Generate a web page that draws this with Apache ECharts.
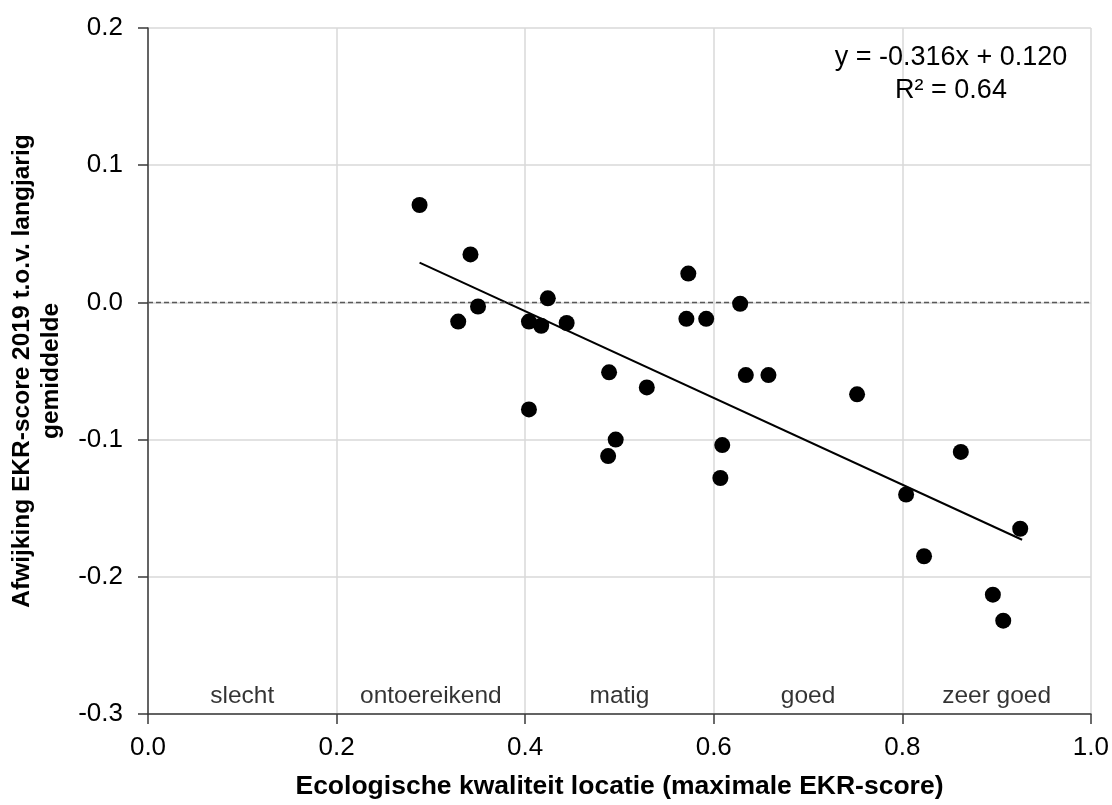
<!DOCTYPE html>
<html>
<head>
<meta charset="utf-8">
<script src="https://cdn.jsdelivr.net/npm/echarts@6/dist/echarts.min.js"></script>
<style>
html,body{margin:0;padding:0;background:#fff;}
#chart{width:1112px;height:805px;}
</style>
</head>
<body>
<div id="chart"></div>
<script>
// Data
const xValues = [0.288, 0.342, 0.329, 0.350, 0.404, 0.417, 0.424, 0.444, 0.404, 0.489,
                 0.496, 0.488, 0.529, 0.573, 0.571, 0.592, 0.628, 0.634, 0.658, 0.609,
                 0.607, 0.752, 0.862, 0.804, 0.823, 0.925, 0.896, 0.907];
const yValues = [0.071, 0.035, -0.014, -0.003, -0.014, -0.017, 0.003, -0.015, -0.078, -0.051,
                 -0.100, -0.112, -0.062, 0.021, -0.012, -0.012, -0.001, -0.053, -0.053, -0.104,
                 -0.128, -0.067, -0.109, -0.140, -0.185, -0.165, -0.213, -0.232];
// Trendline end points (y = -0.316x + 0.120)
const trendX = [0.288, 0.927];
const trendY = [0.029, -0.173];
// Quality class labels
const zoneNames = ['slecht', 'ontoereikend', 'matig', 'goed', 'zeer goed'];
const zoneCenters = [0.1, 0.3, 0.5, 0.7, 0.9];
const zoneLabelY = -0.287;
const xTicks = [0.0, 0.2, 0.4, 0.6, 0.8, 1.0];
const yTicks = [-0.3, -0.2, -0.1, 0.0, 0.1, 0.2];
const equationText = 'y = -0.316x + 0.120\nR² = 0.64';

const chart = echarts.init(document.getElementById('chart'), null, {renderer: 'canvas'});
const font = 'Liberation Sans';
const option = {
  animation: false,
  backgroundColor: '#ffffff',
  grid: {left: 148, right: 20, top: 28, bottom: 88, containLabel: false},
  xAxis: {
    type: 'value', min: xTicks[0], max: xTicks[xTicks.length - 1], interval: 0.2,
    name: 'Ecologische kwaliteit locatie (maximale EKR-score)',
    nameLocation: 'middle', nameGap: 59,
    nameTextStyle: {fontFamily: font, fontWeight: 'bold', fontSize: 26.5, color: '#000'},
    axisLine: {show: true, onZero: false, lineStyle: {color: '#3a3a3a', width: 1.5}},
    axisTick: {show: true, inside: false, length: 10, lineStyle: {color: '#3a3a3a', width: 1.5}},
    axisLabel: {fontFamily: font, fontSize: 26, color: '#000', margin: 21,
      formatter: v => v.toFixed(1)},
    splitLine: {show: true, lineStyle: {color: '#d9d9d9', width: 1.5}}
  },
  yAxis: {
    type: 'value', min: yTicks[0], max: yTicks[yTicks.length - 1], interval: 0.1,
    name: 'Afwijking EKR-score 2019 t.o.v. langjarig\ngemiddelde',
    nameLocation: 'middle', nameGap: 82, nameRotate: 90,
    nameTextStyle: {fontFamily: font, fontWeight: 'bold', fontSize: 24.5,
      color: '#000', lineHeight: 29, align: 'center'},
    axisLine: {show: true, onZero: false, lineStyle: {color: '#3a3a3a', width: 1.5}},
    axisTick: {show: true, inside: false, length: 10, lineStyle: {color: '#3a3a3a', width: 1.5}},
    axisLabel: {fontFamily: font, fontSize: 26, color: '#000', margin: 25,
      formatter: v => (Math.abs(v) < 1e-9 ? 0 : v).toFixed(1)},
    splitLine: {show: true, lineStyle: {color: '#d9d9d9', width: 1.5}}
  },
  graphic: [{
    type: 'text', left: 951 - 130, top: 41, z: 100,
    style: {text: equationText, font: '27px "Liberation Sans"', fill: '#000',
      textAlign: 'center', lineHeight: 33, width: 260, x: 130}
  }],
  series: [
    {
      type: 'scatter', name: 'punten',
      data: xValues.map((x, i) => [x, yValues[i]]),
      symbol: 'circle', symbolSize: 16,
      itemStyle: {color: '#000', opacity: 1},
      z: 5,
      markLine: {
        silent: true, symbol: ['none', 'none'], label: {show: false},
        lineStyle: {color: '#595959', type: [5, 3], width: 1.3},
        data: [{yAxis: 0}]
      }
    },
    {
      type: 'line', name: 'trend',
      data: trendX.map((x, i) => [x, trendY[i]]),
      showSymbol: false, symbol: 'none',
      lineStyle: {color: '#000', width: 2},
      z: 4
    },
    {
      type: 'scatter', name: 'klassen',
      data: zoneCenters.map((x, i) => ({value: [x, zoneLabelY], name: zoneNames[i]})),
      symbolSize: 1,
      itemStyle: {color: 'rgba(0,0,0,0)'},
      label: {show: true, position: 'inside', formatter: p => p.name,
        fontFamily: font, fontSize: 24.5, color: '#000'},
      silent: true, z: 3
    }
  ]
};
chart.setOption(option);
</script>
</body>
</html>
